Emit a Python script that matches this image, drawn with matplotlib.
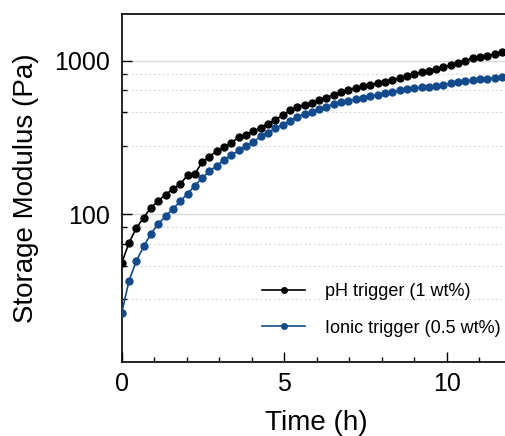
import matplotlib
matplotlib.use("Agg")
import matplotlib.pyplot as plt
from matplotlib.ticker import FixedLocator, NullFormatter

plt.rcParams['font.family'] = ['Liberation Sans', 'DejaVu Sans']

# tiempo de muestreo (h)
time_h = [0.0, 0.225, 0.45, 0.675, 0.9, 1.125, 1.35, 1.575, 1.8, 2.025,
          2.25, 2.475, 2.7, 2.925, 3.15, 3.375, 3.6, 3.825, 4.05, 4.275,
          4.5, 4.725, 4.95, 5.175, 5.4, 5.625, 5.85, 6.075, 6.3, 6.525,
          6.75, 6.975, 7.2, 7.425, 7.65, 7.875, 8.1, 8.325, 8.55, 8.775,
          9.0, 9.225, 9.45, 9.675, 9.9, 10.125, 10.35, 10.575, 10.8, 11.025,
          11.25, 11.475, 11.7]

# G' (Pa)
g_ph = [48, 65, 81, 95, 110, 122, 134, 146, 157, 179,
        183, 218, 237, 258, 272, 290, 319, 327, 346, 367,
        388, 412, 440, 474, 499, 518, 527, 552, 576, 600,
        621, 644, 664, 680, 694, 715, 730, 752, 771, 795,
        819, 839, 863, 878, 910, 938, 972, 1003, 1035, 1062,
        1080, 1106, 1133]

g_ionic = [22.6, 36.7, 49.4, 61.5, 74.4, 86.4, 97, 108, 121, 136,
           153, 172, 190, 207, 226, 242, 260, 278, 295, 321,
           339, 362, 382, 406, 431, 449, 465, 484, 501, 522,
           535, 548, 563, 574, 589, 600, 616, 625, 640, 654,
           665, 670, 677, 687, 700, 711, 726, 738, 749, 760,
           766, 771, 783]

labels = ['pH trigger (1 wt%)', 'Ionic trigger (0.5 wt%)']
colors = ['#000000', '#124a8c']

y_major = [100, 1000]
y_minor = [28, 46, 64, 82, 280, 460, 640, 820]

fig = plt.figure(figsize=(5.06, 4.36), dpi=100)
ax = fig.add_axes([0.2405, 0.169, 0.7708, 0.799])

for g, lab, c in zip([g_ph, g_ionic], labels, colors):
    ax.plot(time_h, g, '-o', color=c, lw=1.2, ms=5, label=lab, zorder=3)

ax.set_yscale('log')
ax.set_ylim(10.8, 2020)
ax.set_xlim(0, 12)

ax.yaxis.set_major_locator(FixedLocator(y_major))
ax.set_yticklabels([str(v) for v in y_major])
ax.yaxis.set_minor_locator(FixedLocator(y_minor))
ax.yaxis.set_minor_formatter(NullFormatter())

ax.set_xticks([0, 5, 10])
ax.xaxis.set_minor_locator(FixedLocator(list(range(0, 13))))

ax.tick_params(which='both', direction='in', top=False, right=False,
               labelsize=18, width=1.0)
ax.tick_params(which='major', length=7)
ax.tick_params(which='minor', length=3.5)
ax.tick_params(axis='y', which='major', pad=8.5)
ax.tick_params(axis='x', which='major', pad=7)

# rejilla horizontal
ax.grid(True, which='major', axis='y', color='#d9d9d9', lw=1.0, zorder=0)
ax.grid(True, which='minor', axis='y', color='#d9d9d9', lw=0.8,
        linestyle=(0, (2, 2)), zorder=0)

for s in ax.spines.values():
    s.set_linewidth(1.2)

ax.set_xlabel('Time (h)', fontsize=20, labelpad=10)
ax.set_ylabel('Storage Modulus (Pa)', fontsize=20, labelpad=11)

ax.legend(loc='upper left', bbox_to_anchor=(262 / 506, 1 - 283 / 436),
          bbox_transform=fig.transFigure, frameon=False, fontsize=13,
          handlelength=2.4, handletextpad=1.1, labelspacing=1.08,
          borderpad=0, borderaxespad=0, markerscale=0.8)

fig.savefig('out.png', dpi=100)
